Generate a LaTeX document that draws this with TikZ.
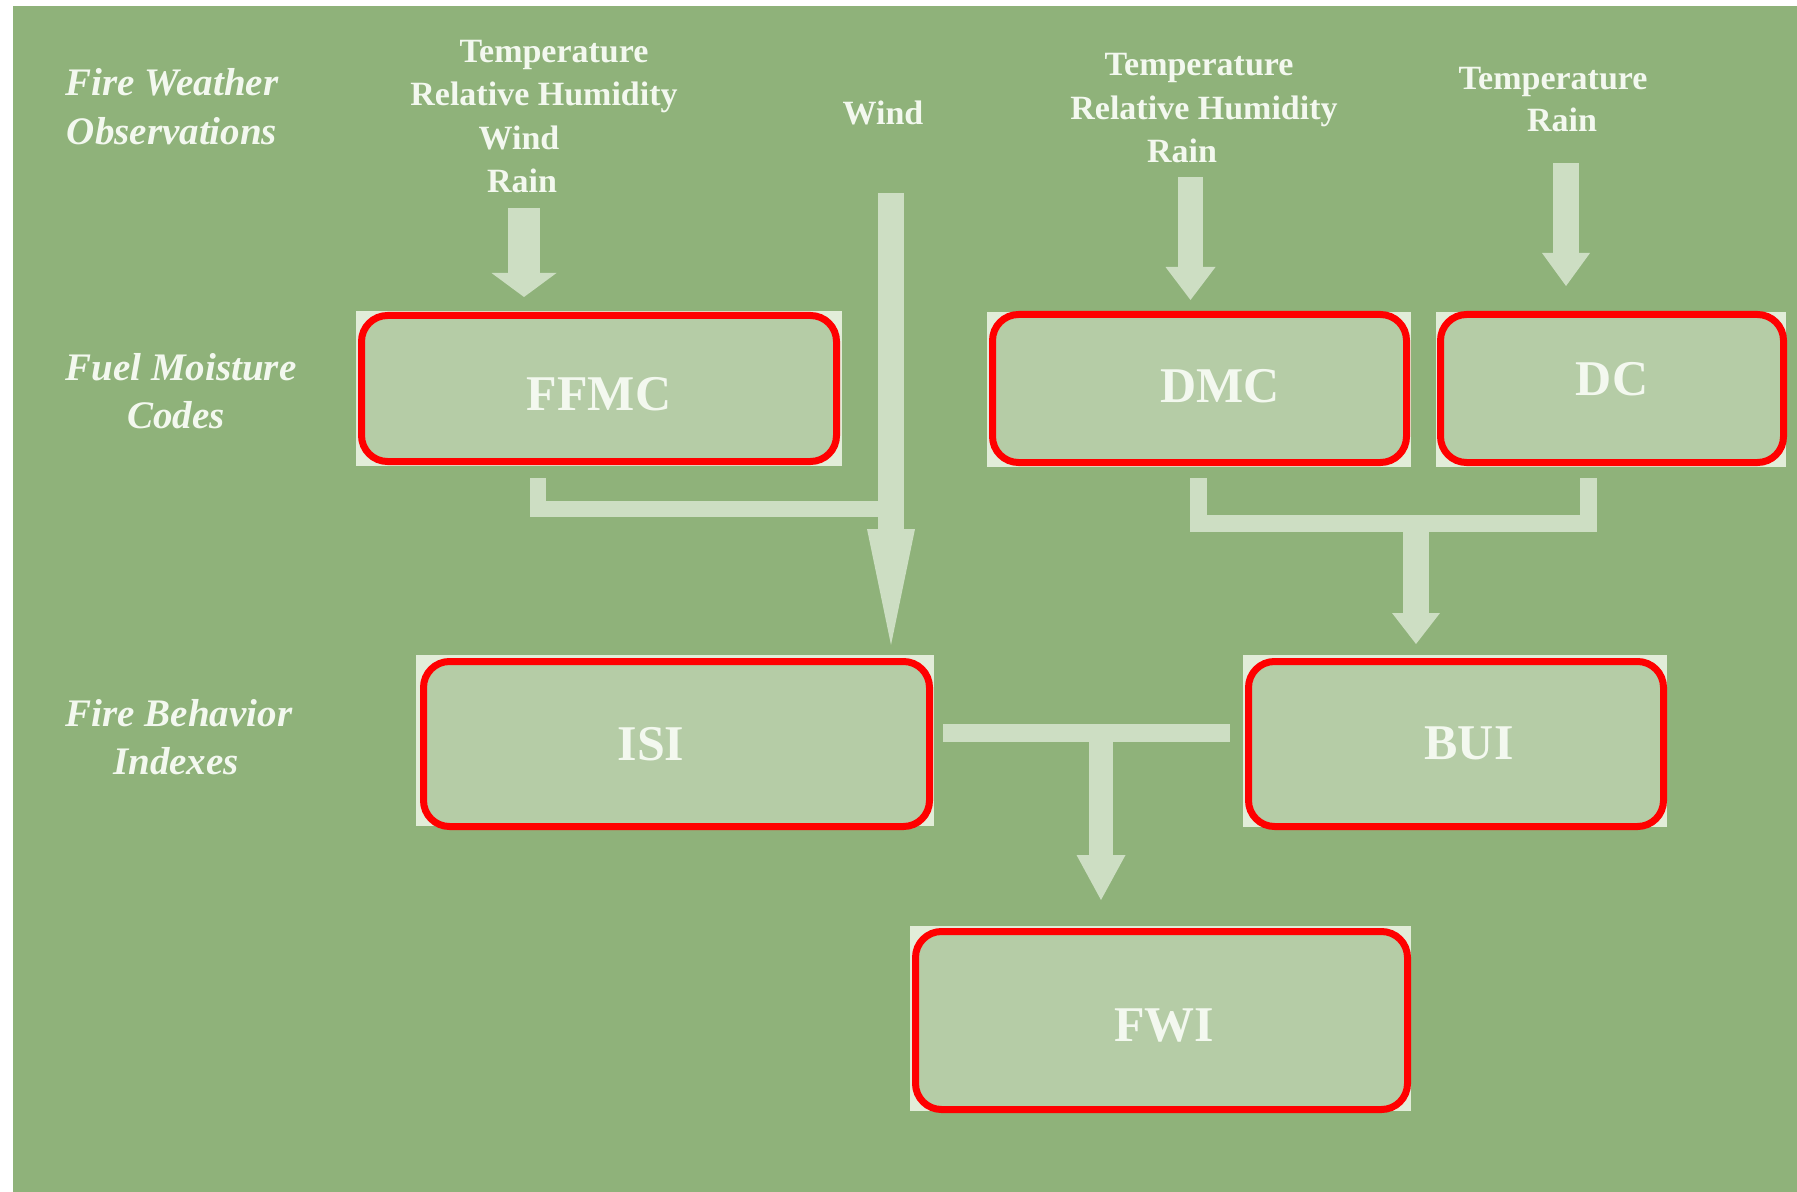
\documentclass[tikz,border=0pt]{standalone}
\usepackage{fontspec}
\setmainfont{Liberation Serif}
\usetikzlibrary{arrows.meta,calc}

\definecolor{fieldgreen}{RGB}{143,178,122}
\definecolor{boxgreen}{RGB}{181,204,166}
\definecolor{paleedge}{RGB}{226,237,217}
\definecolor{flow}{RGB}{205,222,195}
\definecolor{ink}{RGB}{243,248,239}
\definecolor{frame}{RGB}{255,0,0}

\begin{document}
\begin{tikzpicture}[x=0.5pt,y=-0.5pt,
  codebox/.style={rectangle, rounded corners=13pt, fill=boxgreen, draw=frame,
    line width=3.5pt, inner sep=0pt},
  rowlabel/.style={font=\fontsize{19.5pt}{24pt}\selectfont\bfseries\itshape,
    text=ink, anchor=base, inner sep=0pt},
  obslabel/.style={font=\fontsize{17pt}{20pt}\selectfont\bfseries,
    text=ink, anchor=base, inner sep=0pt},
  codetext/.style={font=\fontsize{25pt}{30pt}\selectfont\bfseries,
    text=ink, inner sep=0pt},
  pipe/.style={draw=flow, line width=#1, line cap=butt, line join=miter},
  fatarrow/.style n args={3}{draw=flow, line width=#1, line cap=butt,
    -{Triangle[width=#2, length=#3, line width=0pt, fill=flow]}}
]
\useasboundingbox (0,0) rectangle (1797,1192);
\fill[white] (0,0) rectangle (1797,1192);
\fill[fieldgreen] (13,6) rectangle (1797,1192);

% row titles
\node[rowlabel] (rw1) at (172,96)  {Fire Weather};
\node[rowlabel] (rw2) at (172,145) {Observations};
\node[rowlabel] (rf1) at (181,380) {Fuel Moisture};
\node[rowlabel] (rf2) at (176,428) {Codes};
\node[rowlabel] (rb1) at (179,726) {Fire Behavior};
\node[rowlabel] (rb2) at (176,774) {Indexes};

% weather inputs
\node[obslabel] (o1a) at (554,63)  {Temperature};
\node[obslabel] (o1b) at (544,106) {Relative Humidity};
\node[obslabel] (o1c) at (519,150) {Wind};
\node[obslabel] (o1d) at (522,193) {Rain};
\node[obslabel] (ow)  at (883,125) {Wind};
\node[obslabel] (o2a) at (1199,76)  {Temperature};
\node[obslabel] (o2b) at (1204,120) {Relative Humidity};
\node[obslabel] (o2c) at (1182,163) {Rain};
\node[obslabel] (o3a) at (1553,90)  {Temperature};
\node[obslabel] (o3b) at (1562,132) {Rain};

% pale square plates behind the code boxes
\fill[paleedge] (356,311) rectangle (842,466);
\fill[paleedge] (987,312) rectangle (1411,467);
\fill[paleedge] (1436,312) rectangle (1786,467);
\fill[paleedge] (416,655) rectangle (934,826);
\fill[paleedge] (1243,655) rectangle (1667,827);
\fill[paleedge] (910,926) rectangle (1411,1111);

% code boxes
\node[codebox, minimum width=237.5pt, minimum height=73pt] (ffmc) at (599,388.5) {};
\node[codebox, minimum width=207pt,   minimum height=74pt] (dmc)  at (1199.5,388.5) {};
\node[codebox, minimum width=171.5pt, minimum height=74pt] (dc)   at (1612,388.5) {};
\node[codebox, minimum width=253pt,   minimum height=82.5pt] (isi) at (676.5,744) {};
\node[codebox, minimum width=207.5pt, minimum height=82.5pt] (bui) at (1456,744) {};
\node[codebox, minimum width=246pt,   minimum height=89pt] (fwi)  at (1161.5,1020.5) {};

\node[codetext] (ffmcT) at (599,394)  {FFMC};
\node[codetext] (dmcT)  at (1220,386) {DMC};
\node[codetext] (dcT)   at (1612,379) {DC};
\node[codetext] (isiT)  at (651,744)  {ISI};
\node[codetext] (buiT)  at (1469,743) {BUI};
\node[codetext] (fwiT)  at (1164,1025) {FWI};

% inputs into the moisture codes
\coordinate (in1) at (524,208);
\coordinate (in2) at (1190.5,177);
\coordinate (in3) at (1566,163);
\coordinate (inw) at (891,193);
\draw[fatarrow={16pt}{32.5pt}{12pt}]   (in1) -- ($(in1 |- ffmc.north)+(0,-15)$);
\draw[fatarrow={12.5pt}{25pt}{16.5pt}] (in2) -- ($(in2 |- dmc.north)+(0,-11)$);
\draw[fatarrow={13pt}{24pt}{16.5pt}]   (in3) -- ($(in3 |- dc.north)+(0,-25)$);

% wind and FFMC feed the ISI
\draw[fatarrow={13pt}{24pt}{58pt}] (inw) -- ($(inw |- isi.north)+(0,-13)$);
\coordinate (windjoin) at (891,508.5);
\draw[pipe=8pt] ($(ffmc.south)+(-61.5,13)$) |- (windjoin);

% DMC and DC feed the BUI
\coordinate (buijoin) at (1416,523.5);
\draw[pipe=8.5pt] ($(dmc.south)+(-1,12)$) |- (buijoin) -| ($(dc.south)+(-23.5,12)$);
\draw[fatarrow={13pt}{24pt}{15.5pt}] (buijoin) -- ($(buijoin |- bui.north)+(0,-14)$);

% ISI and BUI feed the FWI
\coordinate (fwijoin) at (1101,733);
\draw[pipe=9pt] ($(isi.east)+(10,-11)$) -- ($(bui.west)+(-15,-11)$);
\draw[fatarrow={12pt}{24.5pt}{22.5pt}] (fwijoin) -- ($(fwijoin |- fwi.north)+(0,-28)$);
\end{tikzpicture}
\end{document}
